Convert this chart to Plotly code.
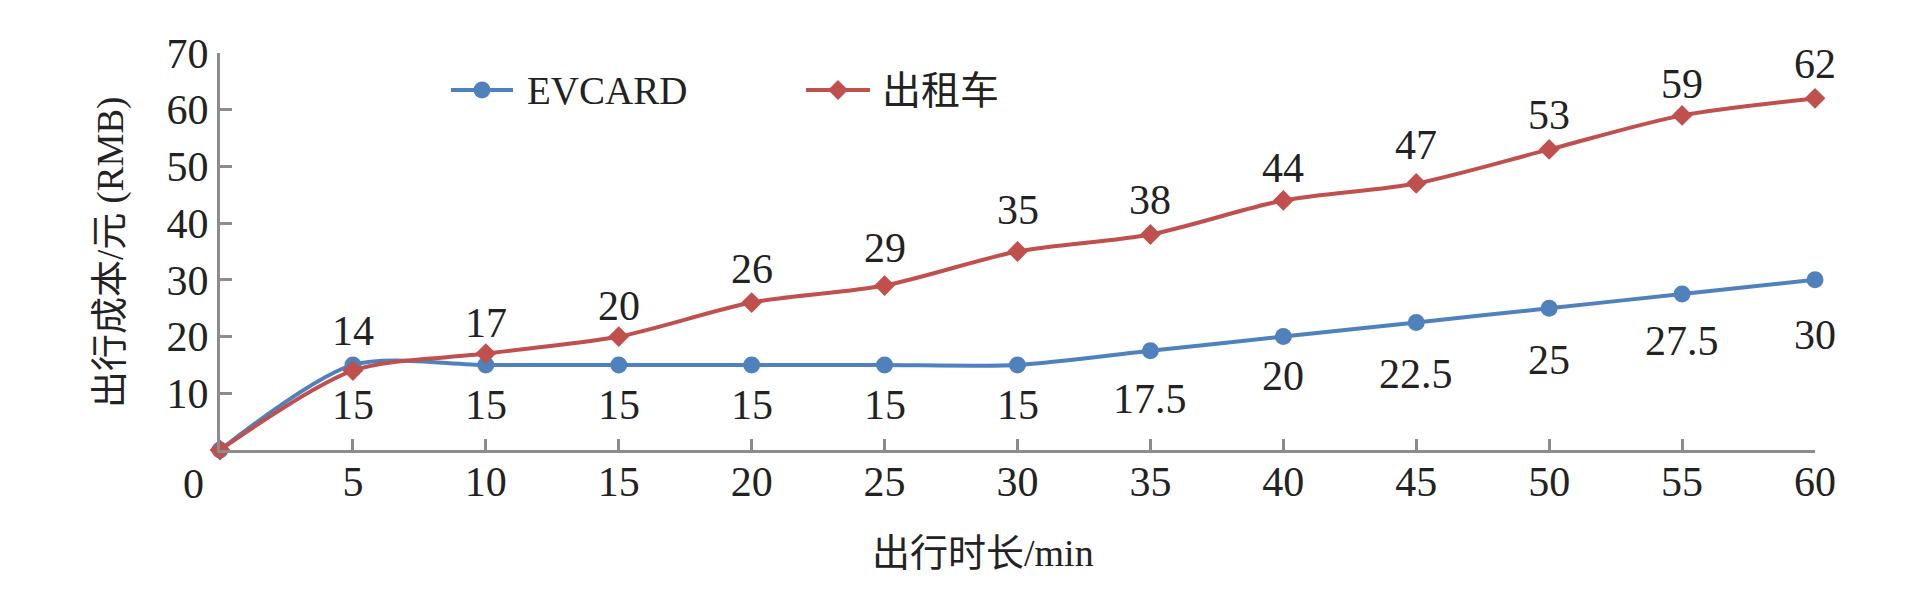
import plotly.graph_objects as go

minutes = [0, 5, 10, 15, 20, 25, 30, 35, 40, 45, 50, 55, 60]
evcard_cost = [0, 15, 15, 15, 15, 15, 15, 17.5, 20, 22.5, 25, 27.5, 30]
taxi_cost = [0, 14, 17, 20, 26, 29, 35, 38, 44, 47, 53, 59, 62]
evcard_labels = ["", "15", "15", "15", "15", "15", "15", "17.5", "20", "22.5", "25", "27.5", "30"]
taxi_labels = ["", "14", "17", "20", "26", "29", "35", "38", "44", "47", "53", "59", "62"]
y_ticks = [0, 10, 20, 30, 40, 50, 60, 70]
y_ticktext = ["", "10", "20", "30", "40", "50", "60", "70"]
x_ticks = [5, 10, 15, 20, 25, 30, 35, 40, 45, 50, 55, 60]
series_names = ["EVCARD", "出租车"]

# label placement offsets (px, style only)
evcard_label_shift = [0, -40, -40, -40, -40, -40, -40, -48, -39, -52, -52, -47, -55]
taxi_label_shift = [0, 40, 31, 31, 34, 38, 42, 34, 32, 38, 34, 31, 34]

BLUE = "#4F81BD"
RED = "#C0504D"
AXIS = "#8C8C8C"
SERIF = "Liberation Serif, Noto Sans CJK SC"
NUMF = "Liberation Serif"
TXT = "#222"

W, H = 1920, 597
L, R, T, B = 212, 113, 45, 155
pw = W - L - R
ph = H - T - B


def px_x(p):
    return (p - L) / pw


def px_y(p):
    return (H - B - p) / ph


fig = go.Figure()
fig.add_trace(go.Scatter(
    x=minutes, y=evcard_cost, name=series_names[0], mode="lines+markers",
    line=dict(color=BLUE, width=4, shape="spline", smoothing=0.8),
    marker=dict(symbol="circle", size=17, color=BLUE),
    cliponaxis=False, showlegend=False,
))
fig.add_trace(go.Scatter(
    x=minutes, y=taxi_cost, name=series_names[1], mode="lines+markers",
    line=dict(color=RED, width=4, shape="spline", smoothing=0.8),
    marker=dict(symbol="diamond", size=16, color=RED),
    cliponaxis=False, showlegend=False,
))

ann = []
for xv, yv, t, s in zip(minutes, evcard_cost, evcard_labels, evcard_label_shift):
    if t:
        ann.append(dict(x=xv, y=yv, xref="x", yref="y", text=t, showarrow=False,
                        yanchor="middle", yshift=s,
                        font=dict(family=NUMF, size=42, color=TXT)))
for xv, yv, t, s in zip(minutes, taxi_cost, taxi_labels, taxi_label_shift):
    if t:
        ann.append(dict(x=xv, y=yv, xref="x", yref="y", text=t, showarrow=False,
                        yanchor="middle", yshift=s,
                        font=dict(family=NUMF, size=42, color=TXT)))
# x-axis "0" label
ann.append(dict(x=0, y=px_y(476), xref="x", yref="paper", text="0", showarrow=False,
                xshift=-27, yanchor="middle", font=dict(family=NUMF, size=42, color=TXT)))
# axis titles
ann.append(dict(x=px_x(103), y=px_y(245), xref="paper", yref="paper",
                text="出行成本/元 (RMB)", textangle=-90, showarrow=False,
                xanchor="center", yanchor="middle",
                font=dict(family=SERIF, size=37, color=TXT)))
ann.append(dict(x=px_x(975), y=px_y(545), xref="paper", yref="paper",
                text="出行时长/min", showarrow=False, xanchor="center", yanchor="middle",
                font=dict(family=SERIF, size=38, color=TXT)))

# custom legend (line + marker + text)
leg_y = px_y(82)
shapes = []
legend_items = [
    (series_names[0], BLUE, 443, 505, 517, "circle"),
    (series_names[1], RED, 798, 862, 872, "diamond"),
]
for name, col, x0, x1, tx, sym in legend_items:
    shapes.append(dict(type="line", xref="paper", yref="paper",
                       x0=px_x(x0), x1=px_x(x1), y0=leg_y, y1=leg_y,
                       line=dict(color=col, width=4)))
    cx = px_x((x0 + x1) / 2)
    if sym == "circle":
        shapes.append(dict(type="circle", xref="paper", yref="paper",
                           xsizemode="pixel", ysizemode="pixel",
                           xanchor=cx, yanchor=leg_y,
                           x0=-8.5, x1=8.5, y0=-8.5, y1=8.5,
                           fillcolor=col, line=dict(width=0)))
    else:
        shapes.append(dict(type="path", xref="paper", yref="paper",
                           xsizemode="pixel", ysizemode="pixel",
                           xanchor=cx, yanchor=leg_y,
                           path="M0,-10 L10,0 L0,10 L-10,0 Z",
                           fillcolor=col, line=dict(width=0)))
    ann.append(dict(x=px_x(tx), y=leg_y, xref="paper", yref="paper", text=name,
                    showarrow=False, xanchor="left", yanchor="middle",
                    font=dict(family=SERIF, size=39, color=TXT)))

fig.update_layout(
    width=W, height=H,
    margin=dict(l=L, r=R, t=T, b=B),
    paper_bgcolor="white", plot_bgcolor="white",
    showlegend=False,
    annotations=ann,
    shapes=shapes,
)
fig.update_xaxes(
    range=[0, 60], tickvals=x_ticks, ticktext=[str(v) for v in x_ticks],
    showgrid=False, zeroline=False, showline=True, linecolor=AXIS, linewidth=3,
    ticks="inside", ticklen=11, tickwidth=3, tickcolor=AXIS,
    ticklabelstandoff=-7,
    tickfont=dict(family=NUMF, size=42, color=TXT),
)
fig.update_yaxes(
    range=[0, 70], tickvals=y_ticks, ticktext=y_ticktext,
    showgrid=False, zeroline=False, showline=True, linecolor=AXIS, linewidth=3,
    ticks="inside", ticklen=12, tickwidth=3, tickcolor=AXIS,
    tickfont=dict(family=NUMF, size=42, color=TXT),
)

fig.write_html("out.html")
